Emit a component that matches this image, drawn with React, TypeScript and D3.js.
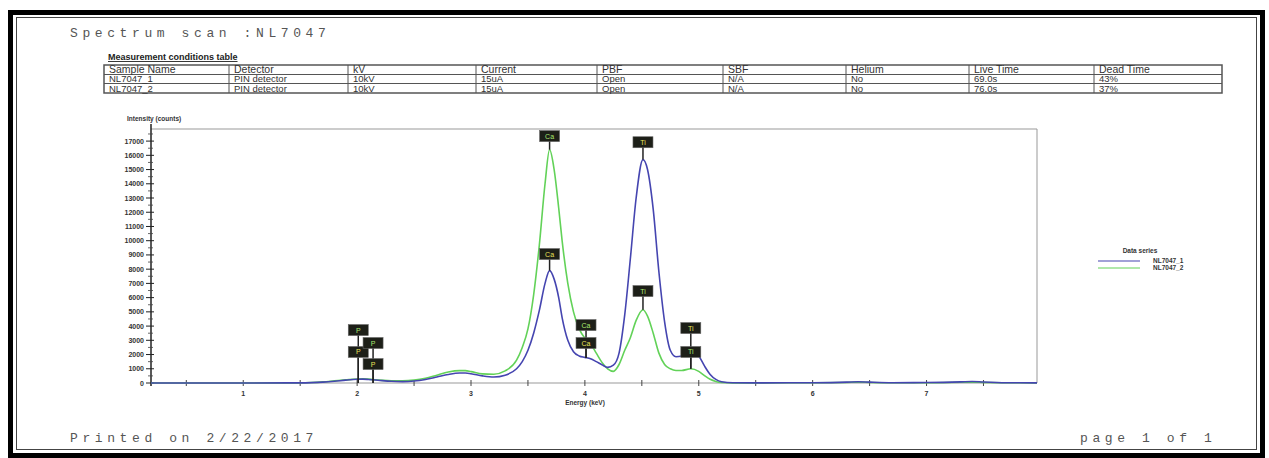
import React from "react";
import * as d3 from "d3";

const energies = [0.19, 0.5, 1.0, 1.5, 1.6, 1.7, 1.8, 1.9, 2.0, 2.05, 2.1, 2.2, 2.3, 2.4, 2.5, 2.6, 2.7, 2.8, 2.9, 2.95, 3.0, 3.1, 3.2, 3.3, 3.4, 3.45, 3.5, 3.55, 3.6, 3.65, 3.69, 3.73, 3.77, 3.8, 3.85, 3.9, 3.95, 4.0, 4.05, 4.1, 4.15, 4.2, 4.25, 4.3, 4.35, 4.4, 4.45, 4.51, 4.55, 4.6, 4.65, 4.7, 4.75, 4.8, 4.85, 4.93, 5.0, 5.05, 5.1, 5.15, 5.2, 5.3, 5.5, 6.0, 6.3, 6.4, 6.5, 6.7, 7.0, 7.3, 7.4, 7.5, 7.7, 7.97];
const countsNL1 = [0, 0, 0, 10, 25, 60, 120, 200, 260, 270, 250, 180, 120, 100, 140, 250, 420, 600, 700, 700, 650, 500, 420, 550, 1000, 1500, 2300, 3500, 5100, 7000, 7900, 7300, 6000, 4600, 3000, 2200, 1900, 1800, 1700, 1500, 1280, 1100, 1250, 2100, 4800, 8800, 13000, 15700, 15000, 12200, 7800, 4300, 2300, 1850, 1900, 2300, 1900, 1200, 600, 250, 90, 20, 10, 20, 60, 90, 60, 20, 30, 80, 110, 70, 20, 10];
const countsNL2 = [0, 0, 0, 5, 30, 80, 150, 220, 280, 290, 270, 200, 150, 150, 200, 330, 550, 770, 870, 870, 800, 640, 620, 850, 1600, 2500, 3800, 6200, 9700, 14000, 16400, 15000, 12300, 10000, 7000, 5000, 3800, 3150, 2750, 2100, 1450, 1000, 820, 1300, 2300, 3200, 4400, 5150, 4700, 3500, 2100, 1300, 1000, 880, 880, 1000, 820, 520, 260, 110, 40, 10, 10, 20, 40, 60, 40, 20, 20, 50, 60, 40, 20, 10];

const seriesNames = ["NL7047_1", "NL7047_2"];
const seriesColors = ["#4545b0", "#62d258"];

const yTicks = d3.range(0, 17001, 1000);
const xTickLabels = [1, 2, 3, 4, 5, 6, 7];

const tableHeaders = ["Sample Name", "Detector", "kV", "Current", "PBF", "SBF", "Helium", "Live Time", "Dead Time"];
const tableRow1 = ["NL7047_1", "PIN detector", "10kV", "15uA", "Open", "N/A", "No", "69.0s", "43%"];
const tableRow2 = ["NL7047_2", "PIN detector", "10kV", "15uA", "Open", "N/A", "No", "76.0s", "37%"];

// peak tags: element, energy, series index, tag height (counts), stem end (counts)
const tagLabels = ["P", "P", "P", "P", "Ca", "Ca", "Ca", "Ca", "Ti", "Ti", "Ti", "Ti"];
const tagEnergies = [2.01, 2.01, 2.14, 2.14, 3.69, 3.69, 4.01, 4.01, 4.51, 4.51, 4.93, 4.93];
const tagSeries = [1, 0, 1, 0, 1, 0, 1, 0, 0, 1, 0, 1];
const tagCounts = [3720, 2180, 2810, 1330, 17350, 9060, 4070, 2810, 16920, 6460, 3860, 2180];
const tagStemTo = [0, 0, 0, 0, 16400, 7900, 1750, 1750, 15700, 5150, 1000, 1000];

export default function App() {
  const x = d3.scaleLinear().domain([0.19, 7.97]).range([151, 1037]);
  const y = d3.scaleLinear().domain([0, 17850]).range([383, 129]);
  const line = d3
    .line<number>()
    .x((_, i) => x(energies[i]))
    .y((d) => y(d))
    .curve(d3.curveMonotoneX);

  const colX = [104, 229, 348, 476, 597, 723, 846, 969, 1094, 1222];
  const rowY = [65, 74.5, 83.5, 93];
  const rows = [tableHeaders, tableRow1, tableRow2];
  const xMinor = d3.range(0.5, 8, 0.5);
  const yMinor = d3.range(500, 17800, 1000);
  const mono = "'Liberation Mono', 'DejaVu Sans Mono', monospace";
  const sans = "'Liberation Sans', Arial, sans-serif";

  return (
    <svg width={1269} height={458} style={{ position: "absolute", left: 0, top: 0, background: "#fff" }}>
      <rect x={0} y={0} width={1269} height={458} fill="#fff" />
      {/* page frame */}
      <rect x={10.5} y={12.5} width={1252} height={443} fill="none" stroke="#000" strokeWidth={5} />
      <rect x={16.5} y={17.5} width={1240} height={432} fill="none" stroke="#444" strokeWidth={1} />

      <text x={70} y={37} fontFamily={mono} fontSize={13} letterSpacing={4.6} fill="#555">Spectrum scan :NL7047</text>
      <text x={108} y={60} fontFamily={sans} fontSize={9} fontWeight="bold" fill="#222" textDecoration="underline">Measurement conditions table</text>

      {/* table */}
      <g stroke="#555" strokeWidth={1} fill="none">
        <rect x={colX[0]} y={rowY[0]} width={colX[9] - colX[0]} height={rowY[3] - rowY[0]} strokeWidth={1.5} />
        {rowY.slice(1, 3).map((ry, i) => (
          <line key={i} x1={colX[0]} x2={colX[9]} y1={ry} y2={ry} />
        ))}
        {colX.slice(1, 9).map((cx, i) => (
          <line key={i} x1={cx} x2={cx} y1={rowY[0]} y2={rowY[3]} />
        ))}
      </g>
      {rows.map((r, ri) =>
        r.map((t, ci) => (
          <text key={ri + "-" + ci} x={colX[ci] + 5} y={rowY[ri + 1] - 1.5} fontFamily={sans} fontSize={ri === 0 ? 10.5 : 9.5} fill="#333">
            {t}
          </text>
        ))
      )}

      {/* plot frame */}
      <line x1={151} x2={1037} y1={129} y2={129} stroke="#999" strokeWidth={1} />
      <line x1={1037} x2={1037} y1={129} y2={383} stroke="#999" strokeWidth={1} />
      <line x1={151} x2={1037} y1={383} y2={383} stroke="#999" strokeWidth={1} />

      {/* y axis */}
      <line x1={151} x2={151} y1={124} y2={386} stroke="#222" strokeWidth={1.5} />
      {yTicks.map((t) => (
        <g key={t}>
          <line x1={146} x2={154} y1={y(t)} y2={y(t)} stroke="#222" />
          <text x={144} y={y(t) + 2.5} textAnchor="end" fontFamily={sans} fontSize={7} fontWeight="bold" fill="#333">{t}</text>
        </g>
      ))}
      {yMinor.map((t) => (
        <line key={t} x1={148} x2={153} y1={y(t)} y2={y(t)} stroke="#444" strokeWidth={0.8} />
      ))}
      <text x={127} y={121} fontFamily={sans} fontSize={6.5} fontWeight="bold" fill="#333">Intensity (counts)</text>

      {/* x axis */}
      {xMinor.map((t) => (
        <line key={t} x1={x(t)} x2={x(t)} y1={380} y2={386} stroke="#444" strokeWidth={1} />
      ))}
      {xTickLabels.map((t) => (
        <text key={t} x={x(t)} y={396} textAnchor="middle" fontFamily={sans} fontSize={7} fontWeight="bold" fill="#333">{t}</text>
      ))}
      <text x={585} y={405} textAnchor="middle" fontFamily={sans} fontSize={6.5} fontWeight="bold" fill="#333">Energy (keV)</text>

      {/* spectra */}
      <path d={line(countsNL2) || ""} fill="none" stroke={seriesColors[1]} strokeWidth={1.6} />
      <path d={line(countsNL1) || ""} fill="none" stroke={seriesColors[0]} strokeWidth={1.6} />

      {/* peak tags */}
      {tagLabels.map((lab, i) => {
        const cx = x(tagEnergies[i]);
        const cy = y(tagCounts[i]);
        return (
          <line key={"s" + i} x1={cx} x2={cx} y1={cy} y2={y(tagStemTo[i])} stroke="#222" strokeWidth={1.5} />
        );
      })}
      {tagLabels.map((lab, i) => {
        const cx = x(tagEnergies[i]);
        const cy = y(tagCounts[i]);
        return (
          <g key={"t" + i}>
            <rect x={cx - 10} y={cy - 5.5} width={20} height={11} fill="#1d1f18" stroke="#666" strokeWidth={0.6} />
            <text x={cx} y={cy + 2.5} textAnchor="middle" fontFamily={sans} fontSize={7} fill={tagSeries[i] === 0 ? "#e8e25a" : "#a8e870"}>{lab}</text>
          </g>
        );
      })}

      {/* legend */}
      <text x={1140} y={253} textAnchor="middle" fontFamily={sans} fontSize={6.5} fontWeight="bold" fill="#333">Data series</text>
      {seriesNames.map((n, i) => (
        <g key={n}>
          <line x1={1098} x2={1140} y1={261 + i * 7} y2={261 + i * 7} stroke={seriesColors[i]} strokeWidth={1.2} />
          <text x={1153} y={263 + i * 7} fontFamily={sans} fontSize={6.5} fontWeight="bold" fill="#333">{n}</text>
        </g>
      ))}

      <text x={70} y={442} fontFamily={mono} fontSize={13} letterSpacing={4.6} fill="#555">Printed on 2/22/2017</text>
      <text x={1080} y={442} fontFamily={mono} fontSize={13} letterSpacing={4.6} fill="#555">page 1 of 1</text>
    </svg>
  );
}
